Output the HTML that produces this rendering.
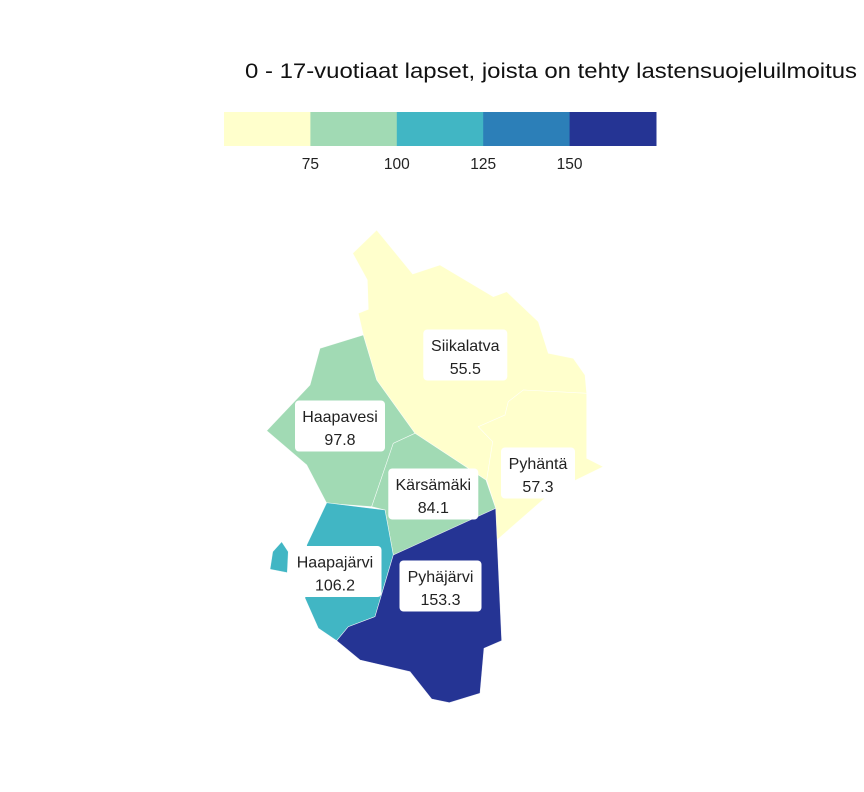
<!DOCTYPE html>
<html><head><meta charset="utf-8"><style>
body{margin:0;background:#fff;}
svg{display:block;font-family:"Liberation Sans",sans-serif;}
</style></head><body>
<svg id="chart" width="864" height="792" viewBox="0 0 864 792">
<text x="551" y="78" text-anchor="middle" font-size="21" fill="#111" textLength="612" lengthAdjust="spacingAndGlyphs">0 - 17-vuotiaat lapset, joista on tehty lastensuojeluilmoitus</text>
<g id="legend"></g>
<g id="map"></g>
<g id="labels"></g>
</svg>
<script>
const breaks = [75, 100, 125, 150];
const palette = ["#ffffcc", "#a1dab4", "#41b6c4", "#2c7fb8", "#253494"];
const regionNames = ["Siikalatva", "Pyhäntä", "Haapavesi", "Kärsämäki", "Haapajärvi", "Pyhäjärvi"];
const regionValues = [55.5, 57.3, 97.8, 84.1, 106.2, 153.3];
const tickLabels = ["75", "100", "125", "150"];

const NS = "http://www.w3.org/2000/svg";
function mk(tag, attrs, parent){const e=document.createElementNS(NS,tag);for(const k in attrs)e.setAttribute(k,attrs[k]);parent.appendChild(e);return e;}
function colorFor(v){let i=0;while(i<breaks.length&&v>=breaks[i])i++;return palette[i];}

const lg=document.getElementById('legend');
const lx0=224, lw=86.4;
palette.forEach((c,i)=>{
  const r=mk('rect',{x:lx0+i*lw,y:112,width:lw+0.5,height:34,fill:c},lg);
  
  
});
tickLabels.forEach((t,i)=>{
  const tx=mk('text',{x:lx0+(i+1)*lw,y:169,'text-anchor':'middle','font-size':15.5,fill:'#222'},lg);
  tx.textContent=t;
  
  
});

const shapes = {
 "Siikalatva":"M352.7,253.3 L376.7,230 L412.7,274 L440,265 L493.3,296.7 L506.7,291.7 L538.3,321.7 L548.3,353.3 L573.3,358.3 L585,375 L586.7,393.3 L523.3,390 L508.3,401.7 L505,415 L478.3,426.7 L492.7,441.7 L486.7,480 L486,480 L415,433.3 L376.7,380 L363.3,335 L358.3,313.3 L368.3,309.3 L367.3,280 Z",
 "Pyhäntä":"M586.7,393.3 L586.7,458.3 L603.3,466.7 L576,480 L542.7,500 L495,541.7 L495.7,508.3 L486.7,480 L492.7,441.7 L478.3,426.7 L505,415 L508.3,401.7 L523.3,390 Z",
 "Haapavesi":"M363.3,335 L320,348.3 L310,385 L266.7,430.7 L306.7,465 L326.7,503.3 L371.7,506.7 L393.3,443.3 L415,433.3 L376.7,380 Z",
 "Kärsämäki":"M415,433.3 L393.3,443.3 L371.7,506.7 L385,510 L393.3,555 L473.3,520 L495.7,508.3 L486,480 Z",
 "Haapajärvi":"M326.7,502.7 L385,510 L393.3,555 L375,616.7 L348.3,626.7 L336.7,640.7 L318.3,628.3 L305,598.3 L306.7,545 Z M281.7,541.7 L288.3,551.7 L287.3,572.7 L270,569.3 L272.7,551.7 Z",
 "Pyhäjärvi":"M393.3,555 L495.7,508.3 L501.7,640.7 L484,648.3 L480,693.3 L449.3,702.7 L431.7,699 L410,671.7 L360,660 L336.7,640.7 L348.3,626.7 L375,616.7 Z"
};
const boxes = {
 "Siikalatva":[465.3,355],"Pyhäntä":[538,473],"Haapavesi":[340,426],
 "Kärsämäki":[433.3,494],"Haapajärvi":[335,571.5],"Pyhäjärvi":[440.5,586]
};
const boxW = {"Siikalatva":84,"Pyhäntä":74,"Haapavesi":90,"Kärsämäki":90,"Haapajärvi":93,"Pyhäjärvi":82};

const mg=document.getElementById('map');
regionNames.forEach((n,i)=>{
  const p=mk('path',{d:shapes[n],fill:colorFor(regionValues[i]),stroke:'#ffffff','stroke-width':0.6,'stroke-opacity':0.8},mg);
  
  
});
const lb=document.getElementById('labels');
regionNames.forEach((n,i)=>{
  const [cx,cy]=boxes[n], w=boxW[n], h=51;
  const g=mk('g',{},lb);
  
  
  mk('rect',{x:cx-w/2,y:cy-h/2,width:w,height:h,rx:4,fill:'#fff'},g);
  const t1=mk('text',{x:cx,y:cy-4,'text-anchor':'middle','font-size':16,fill:'#222'},g);
  t1.textContent=n;
  const t2=mk('text',{x:cx,y:cy+19,'text-anchor':'middle','font-size':16,fill:'#222'},g);
  t2.textContent=regionValues[i].toFixed(1);
});
</script>
</body></html>
